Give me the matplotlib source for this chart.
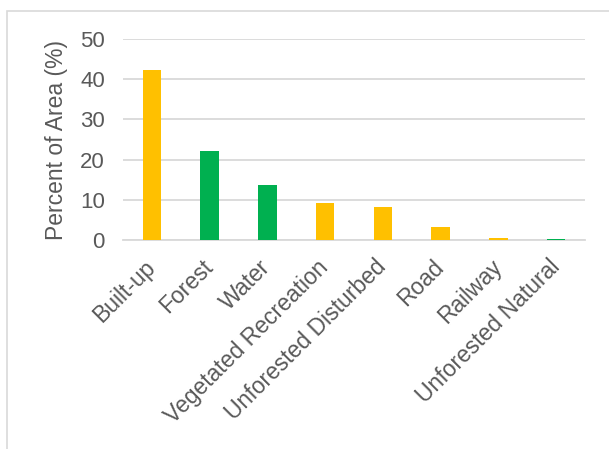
import matplotlib.pyplot as plt
from matplotlib.patches import Rectangle

plt.rcParams['font.family'] = ['Liberation Sans', 'DejaVu Sans']

categories = ["Built-up", "Forest", "Water", "Vegetated Recreation",
              "Unforested Disturbed", "Road", "Railway", "Unforested Natural"]
values = [42.3, 22.2, 13.6, 9.3, 8.3, 3.3, 0.4, 0.3]
groups = ["built", "natural", "natural", "built", "built", "built", "built", "natural"]
colours = {"built": "#FFC000", "natural": "#00B050"}

fig = plt.figure(figsize=(6.09, 4.49), dpi=100)
# light chart border like the Excel chart area
fig.patches.append(Rectangle((7 / 609, -0.01), 1.0, 1 - 11 / 449 + 0.01,
                             transform=fig.transFigure, fill=False,
                             edgecolor="#D9D9D9", linewidth=1.2))

ax = fig.add_axes([123 / 609, 1 - 240 / 449, (585 - 123) / 609, (240 - 39) / 449])
x = list(range(len(categories)))
bar_colours = [colours[g] for g in groups]
ax.bar(x, values, width=0.32, color=bar_colours, zorder=3)

ax.set_xlim(-0.5, len(categories) - 0.5)
ax.set_ylim(0, 50)
ax.set_yticks([0, 10, 20, 30, 40, 50])
ax.grid(axis="y", color="#D9D9D9", linewidth=1.3, zorder=0)
for s in ["top", "right", "left"]:
    ax.spines[s].set_visible(False)
ax.spines["bottom"].set_color("#D9D9D9")
ax.spines["bottom"].set_linewidth(1.3)
ax.spines["bottom"].set_zorder(1)
ax.tick_params(axis="both", length=0, labelcolor="#595959")
ax.tick_params(axis="y", pad=13, labelsize=16)
ax.set_xticks(x)
ax.set_xticklabels(categories, rotation=45, ha="right", va="center",
                   rotation_mode="anchor")
ax.tick_params(axis="x", pad=17, labelsize=16.5)

ax.set_ylabel("Percent of Area (%)", fontsize=16.5, color="#595959")
ax.yaxis.set_label_coords(-0.12, 0.5)

fig.savefig("out.png", dpi=100)
